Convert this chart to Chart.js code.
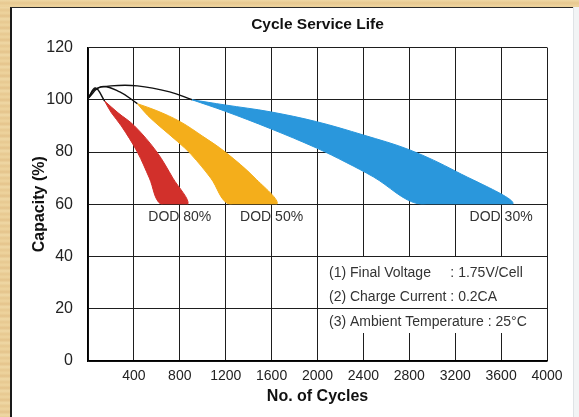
<!DOCTYPE html>
<html><head><meta charset="utf-8">
<script src="https://cdn.jsdelivr.net/npm/chart.js@4/dist/chart.umd.min.js"></script>
<style>
html,body{margin:0;padding:0;width:579px;height:417px;overflow:hidden;background:#f2f4f5;}
.wood{position:absolute;background:repeating-linear-gradient(180deg,#efd8a5 0px,#e7c890 3px,#eed49e 6px,#e4c38b 9px,#f0d9a6 12px);}
#top{left:0;top:0;width:579px;height:7px;}
#left{left:0;top:7px;width:10px;height:410px;}
#panel{position:absolute;left:10px;top:7px;width:563px;height:410px;box-sizing:border-box;border-left:2px solid #1a1a1a;border-top:1px solid #2a2a2a;background:#fff;}
#edge{position:absolute;left:573px;top:7px;width:1px;height:410px;background:#dfe3e6;}
#wrap{position:absolute;left:0;top:0;width:579px;height:417px;}
</style></head>
<body>
<div class="wood" id="top"></div><div class="wood" id="left"></div>
<div id="panel"></div><div id="edge"></div>
<div id="wrap"><canvas id="c"></canvas></div>
<script>
// ---- axes ----
const cycleMin = 0, cycleMax = 4000, cycleStep = 400;
const capacityMin = 0, capacityMax = 120, capacityStep = 20;

// ---- initial rise curves (black), cycles / capacity % ----
const rise80X = [0, 65, 145];
const rise80Y = [100.5, 104.5, 99.5];
const rise50X = [0, 115, 277, 430];
const rise50Y = [100.5, 105, 103, 98.5];
const rise30X = [0, 60, 200, 430, 712, 906];
const rise30Y = [100.5, 104, 105.3, 105.3, 103, 100];

// ---- bands: outer (upper/right) and inner (lower/left) edges, from tip downward ----
const dod80OuterX = [145, 262, 405, 600, 740, 870];
const dod80OuterY = [99.5, 95, 90, 80, 70, 60];
const dod80InnerX = [145, 204, 290, 430, 535, 635];
const dod80InnerY = [99.5, 95, 90, 80, 70, 60];

const dod50OuterX = [430, 600, 804, 1000, 1196, 1456, 1645];
const dod50OuterY = [98.5, 95.8, 91.6, 86, 80, 70, 60];
const dod50InnerX = [430, 520, 620, 780, 900, 1070, 1230];
const dod50InnerY = [98.5, 94, 90, 84, 79, 70, 60];

const dod30OuterX = [906, 1196, 1587, 1993, 2400, 2804, 3210, 3700];
const dod30OuterY = [100, 98, 95.4, 91.6, 86.5, 80.8, 72.5, 60];
const dod30InnerX = [906, 1196, 1587, 1993, 2250, 2486, 2891];
const dod30InnerY = [100, 95.6, 89, 81.5, 76, 70.5, 60];

const bandFloor = 60;

// ---- labels ----
const chartTitle = 'Cycle Service Life';
const xTitle = 'No. of Cycles';
const yTitle = 'Capacity (%)';
const bandLabels = ['DOD 80%', 'DOD 50%', 'DOD 30%'];
const bandLabelX = [800, 1600, 3600];
const bandLabelY = [55.1, 55.1, 55.1];
const noteLines = ['(1) Final Voltage     : 1.75V/Cell', '(2) Charge Current : 0.2CA', '(3) Ambient Temperature : 25\u00B0C'];
const noteX = 2100;
const noteY = [33.6, 24.4, 15.0];
const noteBoxCycles = [2000, 4000];
const noteBoxCapacity = [40, 10.7];

// ---- styles ----
const FONT = '"Liberation Sans", Arial, sans-serif';
const RED = '#d2302b', ORANGE = '#f4ae1b', BLUE = '#2a97dc';
const GRID = '#1e1e1e';

function pts(xs, ys) { return xs.map((x, i) => ({x: x, y: ys[i]})); }
function band(ox, oy, ix, iy) {
  const p = pts(ox, oy);
  for (let i = ix.length - 1; i >= 0; i--) p.push({x: ix[i], y: iy[i]});
  return p;
}

const overlay = {
  id: 'overlay',
  beforeDatasetsDraw(chart) {
    const {ctx, chartArea: a, scales: {y}} = chart;
    const yb = y.getPixelForValue(bandFloor);
    ctx.save();
    ctx.beginPath();
    ctx.rect(a.left, a.top, a.right - a.left, yb - a.top);
    ctx.clip();
  },
  afterDatasetsDraw(chart) {
    const {ctx, chartArea: a, scales: {x, y}} = chart;
    ctx.restore();
    ctx.save();
    ctx.fillStyle = '#111';
    ctx.font = 'bold 15.5px ' + FONT;
    ctx.textAlign = 'center';
    ctx.textBaseline = 'middle';
    ctx.fillText(chartTitle, (a.left + a.right) / 2, 25);
    ctx.fillStyle = '#333';
    ctx.font = '14px ' + FONT;
    bandLabels.forEach((t, i) => ctx.fillText(t, x.getPixelForValue(bandLabelX[i]), y.getPixelForValue(bandLabelY[i])));
    const x0 = x.getPixelForValue(noteBoxCycles[0]), x1 = x.getPixelForValue(noteBoxCycles[1]);
    const yt = y.getPixelForValue(noteBoxCapacity[0]), yb = y.getPixelForValue(noteBoxCapacity[1]);
    const L = Math.round(x0 - 0.5) + 1, R = Math.round(x1 - 0.5), T = Math.round(yt - 0.5) + 1, B = Math.round(yb);
    ctx.fillStyle = '#fff';
    ctx.fillRect(L, T, R - L, B - T);
    const y20 = Math.round(y.getPixelForValue(20) - 0.5) + 0.5;
    ctx.strokeStyle = GRID; ctx.lineWidth = 1;
    ctx.beginPath(); ctx.moveTo(L, y20); ctx.lineTo(R, y20); ctx.stroke();
    ctx.fillStyle = '#333';
    ctx.font = '14px ' + FONT;
    ctx.textAlign = 'left';
    noteLines.forEach((t, i) => ctx.fillText(t, x.getPixelForValue(noteX), y.getPixelForValue(noteY[i])));
    ctx.restore();
  }
};

new Chart(document.getElementById('c'), {
  type: 'line',
  data: {
    datasets: [
      {data: pts(rise80X, rise80Y), borderColor: '#111', borderWidth: 1.4, tension: 0.4, fill: false},
      {data: pts(rise50X, rise50Y), borderColor: '#111', borderWidth: 1.4, tension: 0.4, fill: false},
      {data: pts(rise30X, rise30Y), borderColor: '#111', borderWidth: 1.4, tension: 0.4, fill: false},
      {data: band(dod80OuterX, dod80OuterY, dod80InnerX, dod80InnerY), borderColor: RED, backgroundColor: RED, borderWidth: 1, tension: 0.35, fill: 'shape'},
      {data: band(dod50OuterX, dod50OuterY, dod50InnerX, dod50InnerY), borderColor: ORANGE, backgroundColor: ORANGE, borderWidth: 1, tension: 0.35, fill: 'shape'},
      {data: band(dod30OuterX, dod30OuterY, dod30InnerX, dod30InnerY), borderColor: BLUE, backgroundColor: BLUE, borderWidth: 1, tension: 0.35, fill: 'shape'}
    ]
  },
  options: {
    responsive: true,
    maintainAspectRatio: false,
    animation: false,
    events: [],
    layout: {padding: {top: 47.5, right: 32, bottom: 0, left: 0}},
    elements: {point: {radius: 0}},
    plugins: {legend: {display: false}, tooltip: {enabled: false}, title: {display: false}},
    scales: {
      x: {
        type: 'linear', min: cycleMin, max: cycleMax,
        afterFit(s) { s.height = 56; },
        ticks: {stepSize: cycleStep, padding: 7, color: '#222', font: {family: FONT, size: 14},
          callback: (v) => v === 0 ? '' : String(v), maxRotation: 0, autoSkip: false},
        grid: {color: GRID, lineWidth: 1, drawTicks: false},
        border: {display: true, color: '#000', width: 1.5},
        title: {display: true, text: xTitle, color: '#111', font: {family: FONT, size: 16, weight: 'bold'}, padding: {top: 2, bottom: 11}}
      },
      y: {
        type: 'linear', min: capacityMin, max: capacityMax,
        afterFit(s) { s.width = 88; },
        ticks: {stepSize: capacityStep, padding: 15, color: '#222', font: {family: FONT, size: 16}},
        grid: {color: GRID, lineWidth: 1, drawTicks: false},
        border: {display: true, color: '#000', width: 1.5},
        title: {display: true, text: yTitle, color: '#111', font: {family: FONT, size: 16, weight: 'bold'}, padding: {top: 30.4, bottom: 0}}
      }
    }
  },
  plugins: [overlay]
});
</script>
</body></html>
